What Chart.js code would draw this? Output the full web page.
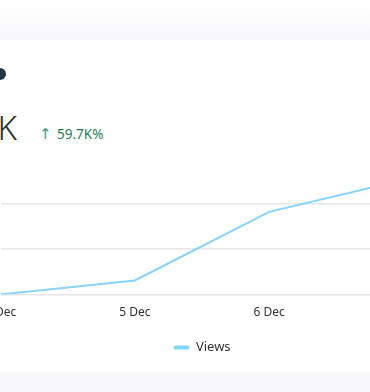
<!DOCTYPE html>
<html>
<head>
<meta charset="utf-8">
<script src="https://cdn.jsdelivr.net/npm/chart.js@4.4.0/dist/chart.umd.min.js"></script>
<style>
  html, body { margin: 0; padding: 0; }
  body {
    width: 370px; height: 392px; overflow: hidden; position: relative;
    background: linear-gradient(#ffffff 0px, #f8f8fb 38px, #f8f8fb 100%);
    font-family: "Noto Sans", "Open Sans", sans-serif;
  }
  .card { position: absolute; left: -20px; top: 40px; width: 410px; height: 332px; background: #fff; }
  .dot { position: absolute; left: -6px; top: 68px; width: 12px; height: 12px; border-radius: 50%; background: #25323f; }
  .big { position: absolute; right: 353px; top: 108px; font-size: 33px; font-weight: 300; color: #2b2f33; white-space: nowrap; line-height: 40px; }
  .delta { position: absolute; left: 39px; top: 124px; font-size: 13.5px; color: #1f7a5c; white-space: nowrap; line-height: 20px; }
  .delta .arr { color: #3f9a77; font-family: "DejaVu Sans", sans-serif; font-size: 15px; display: inline-block; width: 18px; }
  .wrap { position: absolute; left: -18px; top: 166px; width: 440px; height: 198px; }
</style>
</head>
<body>
<div class="card"></div>
<div class="dot"></div>
<div class="big">2.5K</div>
<div class="delta"><span class="arr">↑</span>59.7K%</div>
<div class="wrap"><canvas id="myChart"></canvas></div>
<script>
'use strict';

var labels = ['4 Dec', '5 Dec', '6 Dec', '7 Dec'];
var views = [4, 310, 1820, 2520];
var yTicks = [0, 1000, 2000];
var seriesName = 'Views';
var lineColor = '#86d3fb';

var ctx = document.getElementById('myChart').getContext('2d');
var chart = new Chart(ctx, {
    type: 'line',
    data: {
        labels: labels,
        datasets: [{
            label: seriesName,
            data: views,
            borderColor: lineColor,
            backgroundColor: lineColor,
            borderWidth: 2,
            tension: 0,
            pointRadius: 0,
            pointHoverRadius: 0
        }]
    },
    options: {
        responsive: true,
        maintainAspectRatio: false,
        animation: false,
        layout: { padding: { top: 14, left: 0, right: 0, bottom: 0 } },
        plugins: {
            tooltip: { enabled: false },
            legend: {
                position: 'bottom',
                labels: {
                    color: '#333',
                    font: { family: '"Noto Sans", sans-serif', size: 13 },
                    boxWidth: 16,
                    boxHeight: 4,
                    useBorderRadius: true,
                    borderRadius: 2,
                    padding: 18,
                    generateLabels: function (c) {
                        var items = Chart.defaults.plugins.legend.labels.generateLabels(c);
                        items.forEach(function (it) { it.lineWidth = 0; });
                        return items;
                    }
                }
            }
        },
        scales: {
            x: {
                grid: { display: false },
                border: { display: false },
                ticks: {
                    color: '#333',
                    font: { family: '"Noto Sans", sans-serif', size: 12 },
                    maxRotation: 0,
                    autoSkip: false,
                    padding: 3
                }
            },
            y: {
                min: 0,
                max: Math.max.apply(null, views),
                border: { display: false },
                grid: { color: '#e6e6e6', lineWidth: 1.5, drawTicks: false },
                ticks: { display: false },
                afterBuildTicks: function (axis) {
                    axis.ticks = yTicks.map(function (v) { return { value: v }; });
                }
            }
        }
    }
});
</script>
</body>
</html>
